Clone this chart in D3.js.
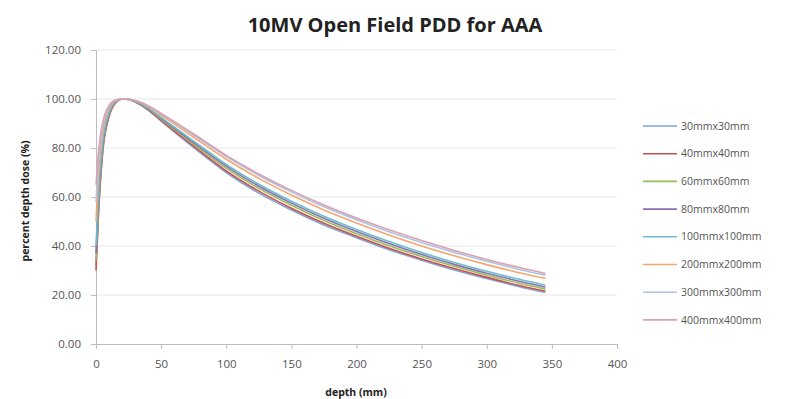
<!DOCTYPE html>
<html>
<head>
<meta charset="utf-8">
<script src="https://cdn.jsdelivr.net/npm/d3@7"></script>
<style>
  body { margin: 0; background: #fff; }
  text { font-family: "Open Sans", "Liberation Sans", sans-serif; }
</style>
</head>
<body>
<svg id="chart" width="795" height="399"></svg>
<script>
// depth (mm) shared by all series
const depths = [0, 2, 5, 10, 15, 20, 25, 30, 40, 50, 75, 100, 125, 150, 175, 200, 225, 250, 275, 300, 325, 345];

const fieldNames = ["30mmx30mm", "40mmx40mm", "60mmx60mm", "80mmx80mm",
  "100mmx100mm", "200mmx200mm", "300mmx300mm", "400mmx400mm"];

const pdd30 = [32, 55, 78, 93, 98.5, 100, 99.8, 98.8, 95.5, 91, 80.2, 70, 61.6, 54.7, 48.6, 43.4, 38.5, 34.2, 30.2, 26.7, 23.4, 21];
const pdd40 = [30, 54, 77.5, 92.8, 98.4, 100, 99.8, 98.9, 95.7, 91.3, 80.8, 70.7, 62.4, 55.4, 49.3, 44, 39.1, 34.7, 30.8, 27.2, 23.9, 21.5];
const pdd60 = [34, 57, 79, 93.5, 98.6, 100, 99.9, 99, 96, 91.8, 81.6, 71.8, 63.5, 56.6, 50.4, 45, 40.1, 35.7, 31.7, 28.1, 24.8, 22.4];
const pdd80 = [37, 60, 80.5, 94, 98.8, 100, 99.9, 99.1, 96.2, 92.2, 82.2, 72.6, 64.4, 57.5, 51.3, 45.9, 41, 36.5, 32.5, 28.9, 25.6, 23.2];
const pdd100 = [40, 63, 82, 94.5, 99, 100, 99.9, 99.2, 96.4, 92.5, 82.8, 73.3, 65.2, 58.3, 52.1, 46.7, 41.8, 37.3, 33.3, 29.7, 26.4, 24];
const pdd200 = [50, 70, 86, 96, 99.3, 100, 99.9, 99.3, 96.9, 93.4, 84.4, 75.4, 67.6, 60.8, 54.7, 49.4, 44.5, 40, 36, 32.4, 29.1, 26.8];
const pdd300 = [58, 75, 88.5, 96.8, 99.5, 100, 99.9, 99.4, 97.2, 93.9, 85.3, 76.5, 68.8, 62.1, 56, 50.7, 45.8, 41.4, 37.4, 33.8, 30.4, 28.1];
const pdd400 = [65, 79, 90, 97.3, 99.6, 100, 99.9, 99.4, 97.3, 94.1, 85.7, 77, 69.4, 62.7, 56.7, 51.4, 46.6, 42.2, 38.2, 34.5, 31.2, 28.8];

const xTicks = [0, 50, 100, 150, 200, 250, 300, 350, 400];
const yTicks = [0, 20, 40, 60, 80, 100, 120];

const colors = ["#7ea6d8", "#c9504d", "#9bbb59", "#8a70b0", "#6cbdd2", "#f5a66c", "#a9c3e3", "#dba0b4"];

const series = [pdd30, pdd40, pdd60, pdd80, pdd100, pdd200, pdd300, pdd400]
  .map((vals, i) => ({ name: fieldNames[i], color: colors[i], values: vals }));

const margin = { left: 96, right: 178, top: 50, bottom: 55 };
const width = 795, height = 399;

const svg = d3.select("#chart");

const x = d3.scaleLinear().domain([0, 400]).range([margin.left, width - margin.right]);
const y = d3.scaleLinear().domain([0, 120]).range([height - margin.bottom, margin.top]);

// gridlines
svg.append("g")
  .selectAll("line")
  .data(yTicks.filter(d => d > 0))
  .join("line")
  .attr("x1", x(0)).attr("x2", x(400))
  .attr("y1", d => y(d)).attr("y2", d => y(d))
  .attr("stroke", "#e6e6e6").attr("stroke-width", 1);

// axes
const xAxis = svg.append("g")
  .attr("transform", "translate(0," + y(0) + ")")
  .call(d3.axisBottom(x).tickValues(xTicks).tickSize(5).tickPadding(11));
const yAxis = svg.append("g")
  .attr("transform", "translate(" + x(0) + ",0)")
  .call(d3.axisLeft(y).tickValues(yTicks).tickSize(5).tickPadding(10).tickFormat(d3.format(".2f")));

[xAxis, yAxis].forEach(g => {
  g.select(".domain").attr("stroke", "#bdbdbd");
  g.selectAll(".tick line").attr("stroke", "#bdbdbd");
  g.selectAll(".tick text").attr("fill", "#555").style("font-size", "11.5px")
    .style("font-family", "'Open Sans', sans-serif");
});

// lines
const line = d3.line()
  .x((d, i) => x(depths[i]))
  .y(d => y(d))
  .curve(d3.curveMonotoneX);

svg.append("g")
  .selectAll("path")
  .data(series)
  .join("path")
  .attr("fill", "none")
  .attr("stroke", d => d.color)
  .attr("stroke-width", 1.6)
  .attr("d", d => line(d.values));

// titles
svg.append("text")
  .attr("x", 395).attr("y", 32)
  .attr("text-anchor", "middle")
  .style("font-size", "20px").style("font-weight", "bold")
  .attr("fill", "#222")
  .text("10MV Open Field PDD for AAA");

svg.append("text")
  .attr("x", 356).attr("y", 396)
  .attr("text-anchor", "middle")
  .style("font-size", "10.5px").style("font-weight", "bold")
  .attr("fill", "#222")
  .text("depth (mm)");

svg.append("text")
  .attr("transform", "translate(29,201) rotate(-90)")
  .attr("text-anchor", "middle")
  .style("font-size", "10.5px").style("font-weight", "bold")
  .attr("fill", "#222")
  .text("percent depth dose (%)");

// legend
const legend = svg.append("g");
const lg = legend.selectAll("g")
  .data(series)
  .join("g")
  .attr("transform", (d, i) => "translate(643," + (126 + i * 27.7) + ")");
lg.append("line")
  .attr("x1", 0).attr("x2", 34)
  .attr("stroke", d => d.color).attr("stroke-width", 1.6);
lg.append("text")
  .attr("x", 38).attr("dy", "0.35em")
  .style("font-size", "10.5px")
  .attr("fill", "#555")
  .text(d => d.name);
</script>
</body>
</html>
